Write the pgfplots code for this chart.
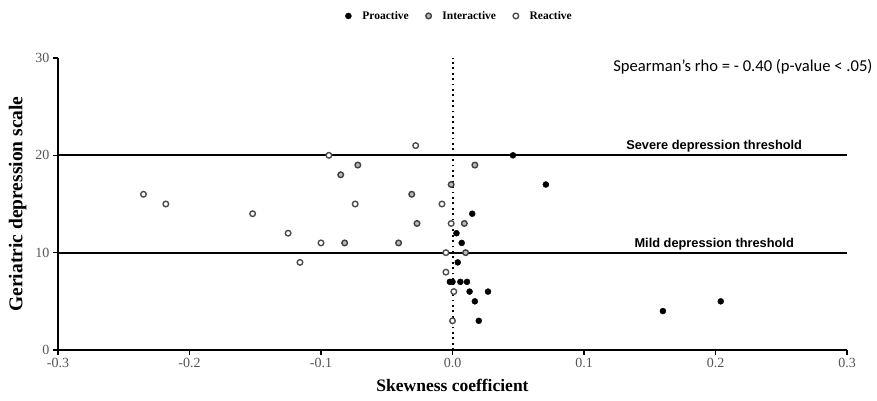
\documentclass[border=0pt]{standalone}
\usepackage{fontspec}
\setmainfont{Liberation Serif}
\newfontfamily\sansb{Liberation Sans}
\newfontfamily\carl{Carlito}
\usepackage{pgfplots}
\pgfplotsset{compat=1.18}
\definecolor{ticklab}{HTML}{555555}
\begin{document}
\begin{tikzpicture}[x=1pt,y=1pt]
\useasboundingbox (0,0) rectangle (877,401);
\begin{axis}[
  at={(58pt,51pt)}, anchor=south west,
  scale only axis, width=789pt, height=292pt,
  xmin=-0.3, xmax=0.3, ymin=0, ymax=30,
  axis lines=left,
  axis line style={line width=2pt,-},
  xtick={-0.3,-0.2,-0.1,0,0.1,0.2,0.3},
  ytick={0,10,20,30},
  tick align=outside,
  major tick length=5pt,
  tick style={line width=1.5pt, black},
  /pgf/number format/assume math mode=true,
  xticklabel style={/pgf/number format/.cd, fixed, fixed zerofill, precision=1},
  ticklabel style={font=\fontsize{14}{14}\selectfont, text=ticklab},
  xlabel={Skewness coefficient},
  ylabel={Geriatric depression scale},
  xlabel style={font=\bfseries\fontsize{17.5}{18}\selectfont, at={(axis description cs:0.5,-0.123)}, anchor=center},
  ylabel style={font=\bfseries\fontsize{19.5}{20}\selectfont, at={(axis description cs:-0.051,0.5)}, anchor=center},
  legend style={at={(axis description cs:0.509,1.144)}, anchor=center, draw=none, fill=none,
    legend columns=3, font=\bfseries\fontsize{11.5}{12}\selectfont,
    /tikz/every odd column/.append style={column sep=9pt},
    /tikz/every even column/.append style={column sep=15pt}},
  legend cell align=left,
  clip=false,
]
\addplot[forget plot, line width=2.2pt, black] coordinates {(-0.3,20) (0.3,20)};
\addplot[forget plot, line width=2.2pt, black] coordinates {(-0.3,10) (0.3,10)};
\addplot[forget plot, line width=2pt, black, dash pattern=on 1.8pt off 3.6pt] coordinates {(0,0) (0,30)};

\addplot[only marks, mark=*, mark size=3pt, mark options={fill=black, draw=black}] coordinates {
(0.046,20) (0.071,17) (0.015,14) (0.003,12) (0.007,11) (0.004,9)
(-0.002,7) (0.000,7) (0.006,7) (0.011,7) (0.013,6) (0.027,6)
(0.017,5) (0.020,3) (0.160,4) (0.204,5)
};
\addlegendentry{Proactive}

\addplot[only marks, mark=*, mark size=2.8pt, mark options={fill=gray!55, draw=black!75, line width=1.4pt}] coordinates {
(-0.085,18) (-0.072,19) (-0.082,11) (-0.041,11) (-0.031,16) (-0.027,13)
(0.009,13) (0.017,19) (0.010,10) (-0.001,17)
};
\addlegendentry{Interactive}

\addplot[only marks, mark=*, mark size=2.8pt, mark options={fill=white, draw=black!70, line width=1.4pt}] coordinates {
(-0.235,16) (-0.218,15) (-0.152,14) (-0.125,12) (-0.100,11) (-0.116,9)
(-0.094,20) (-0.028,21) (-0.074,15) (-0.008,15) (-0.001,13) (-0.005,10)
(-0.005,8) (0.001,6) (0.000,3)
};
\addlegendentry{Reactive}

\node[font=\sansb\bfseries\fontsize{12.8}{13}\selectfont] at (axis cs:0.199,20.9) {Severe depression threshold};
\node[font=\sansb\bfseries\fontsize{12.8}{13}\selectfont] at (axis cs:0.199,10.9) {Mild depression threshold};
\end{axis}
\node[font=\carl\fontsize{16.6}{17}\selectfont, anchor=east] at (876,334) {Spearman’s rho = - 0.40 (p-value < .05)};
\end{tikzpicture}
\end{document}
